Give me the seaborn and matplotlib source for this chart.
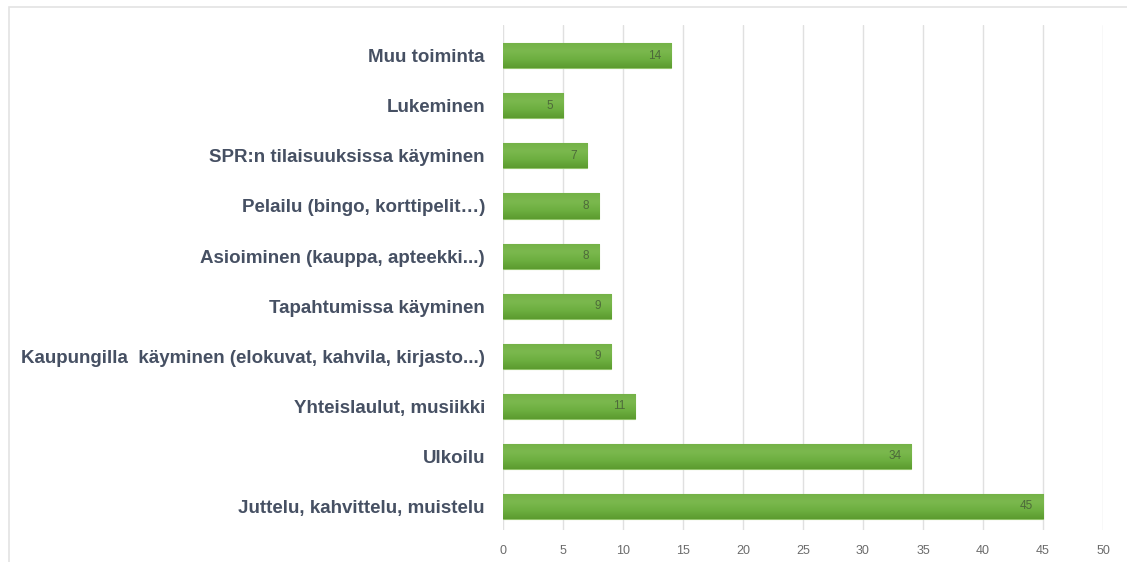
import matplotlib
matplotlib.use("Agg")
import matplotlib.pyplot as plt
import seaborn as sns
import numpy as np
import pandas as pd
from matplotlib.patches import Rectangle
from matplotlib.colors import LinearSegmentedColormap

# --------------------------------------------------------------
# Data
# --------------------------------------------------------------
activities = [
    "Muu toiminta",
    "Lukeminen",
    "SPR:n tilaisuuksissa käyminen",
    "Pelailu (bingo, korttipelit…)",
    "Asioiminen (kauppa, apteekki...)",
    "Tapahtumissa käyminen",
    "Kaupungilla  käyminen (elokuvat, kahvila, kirjasto...)",
    "Yhteislaulut, musiikki",
    "Ulkoilu",
    "Juttelu, kahvittelu, muistelu",
]
counts = [14, 5, 7, 8, 8, 9, 9, 11, 34, 45]
x_ticks = list(range(0, 55, 5))

df = pd.DataFrame({"activity": activities, "count": counts})

# --------------------------------------------------------------
# Plot
# --------------------------------------------------------------
sns.set_style("white")
plt.rcParams["font.family"] = ["Liberation Sans", "DejaVu Sans"]

fig = plt.figure(figsize=(11.27, 5.62), dpi=100)
ax = fig.add_axes([0.4463, 0.057, 0.5324, 0.899])

sns.barplot(
    data=df,
    y="activity",
    x="count",
    orient="h",
    color="#6cab3c",
    width=0.5,
    saturation=1,
    edgecolor="#93c56c",
    linewidth=0.8,
    ax=ax,
)

# soft vertical gradient on the bars (lighter top, darker bottom)
green = LinearSegmentedColormap.from_list("g", ["#74b247", "#7bb84e", "#6daf40", "#5c9b2f"])
grad = np.linspace(0, 1, 64).reshape(-1, 1)
for p in ax.patches:
    x0, y0 = p.get_x(), p.get_y()
    w, h = p.get_width(), p.get_height()
    im = ax.imshow(grad, cmap=green, aspect="auto", extent=(x0, x0 + w, y0 + h, y0),
                   origin="upper", zorder=p.get_zorder())
    im.set_clip_path(p)

# value labels inside the bar ends
for i, v in enumerate(counts):
    ax.text(v - 0.8, i, str(v), ha="right", va="center", fontsize=8.5,
            color="#4d6a3a", zorder=5)

ax.set_xlim(0, 50)
ax.set_ylim(9.47, -0.62)
ax.set_xticks(x_ticks)
ax.xaxis.grid(True, color="#e0e0e0", linewidth=1)
ax.set_axisbelow(True)
for s in ax.spines.values():
    s.set_visible(False)
ax.set_xlabel("")
ax.set_ylabel("")
ax.tick_params(axis="x", length=0, labelsize=9, labelcolor="#6b6b6b", pad=11)
ax.tick_params(axis="y", length=0, pad=13)
for lbl in ax.get_yticklabels():
    lbl.set_fontweight("bold")
    lbl.set_fontsize(13.5)
    lbl.set_color("#465063")

# light frame around the figure like in the original screenshot
fig.patches.append(
    Rectangle((9 / 1127, -0.1), 1.2, 1.1 - 7 / 562, transform=fig.transFigure,
              fill=False, edgecolor="#e3e3e3", linewidth=1.2)
)

plt.savefig("out.png", dpi=100)
